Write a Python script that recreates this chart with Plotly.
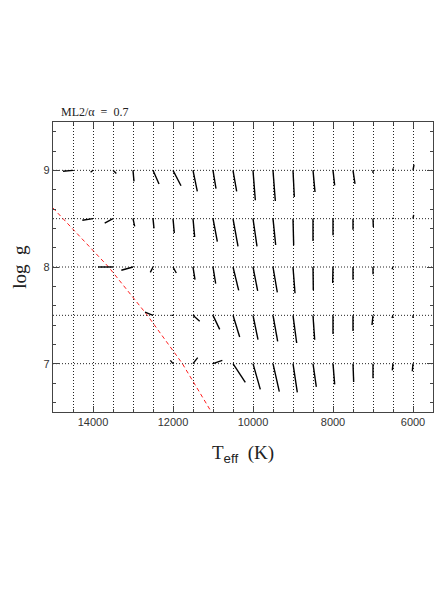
import plotly.graph_objects as go

# model grid: start points of the vectors are the grid nodes
teff_nodes = [14500, 14000, 13500, 13000, 12500, 12000, 11500, 11000, 10500,
              10000, 9500, 9000, 8500, 8000, 7500, 7000, 6500, 6000]
logg_rows = [9.0, 8.5, 8.0, 7.5, 7.0]

# end points of the vectors, one list per log g row (hottest node first)
end_teff_90 = [14750, 14060, 13417, 12975, 12350, 11800, 11392, 10925, 10408,
               9942, 9442, 8967, 8450, 7958, 7450, 7000, 6500, 5975]
end_logg_90 = [8.99, 8.98, 8.966, 8.886, 8.859, 8.841, 8.783, 8.81, 8.783,
               8.69, 8.683, 8.724, 8.776, 8.845, 8.859, 8.972, 9.02, 9.059]

end_teff_85 = [14267, 13708, 12958, 12475, 11967, 11458, 10892, 10375,
               9900, 9433, 8983, 8500, 8000, 7500, 6992, 6500, 5983]
end_logg_85 = [8.483, 8.455, 8.42, 8.4, 8.352, 8.31, 8.262, 8.214,
               8.214, 8.228, 8.224, 8.269, 8.328, 8.386, 8.414, 8.51, 8.538]

end_teff_80 = [13875, 13292, 12567, 11917, 11450, 10933, 10358,
               9883, 9392, 8950, 8492, 8008, 7500, 7000, 6525, 6000]
end_logg_80 = [8.0, 7.966, 7.945, 7.938, 7.869, 7.828, 7.759,
               7.752, 7.738, 7.728, 7.759, 7.834, 7.869, 7.924, 7.976, 8.01]

end_teff_75 = [12700, 12040, 11333, 10833, 10333, 9875, 9383, 8908, 8458,
               8000, 7500, 7025, 6525, 6000]
end_logg_75 = [7.534, 7.5, 7.438, 7.355, 7.276, 7.248, 7.231, 7.214, 7.248,
               7.307, 7.338, 7.4, 7.472, 7.472]

end_teff_70 = [12067, 11383, 10767, 10192, 9817, 9342, 8892, 8417, 7958,
               7483, 7000, 6517, 6017]
end_logg_70 = [7.034, 7.062, 7.034, 6.807, 6.734, 6.71, 6.703, 6.759, 6.786,
               6.81, 6.848, 6.931, 6.921]

# red dashed boundary
red_teff = [15000, 14750, 13610, 12640, 11765, 11040]
red_logg = [8.61, 8.5, 8.0, 7.5, 7.0, 6.5]

rows = [(9.0, end_teff_90, end_logg_90),
        (8.5, end_teff_85, end_logg_85),
        (8.0, end_teff_80, end_logg_80),
        (7.5, end_teff_75, end_logg_75),
        (7.0, end_teff_70, end_logg_70)]

seg_x, seg_y = [], []
for g, et, eg in rows:
    starts = teff_nodes[len(teff_nodes) - len(et):]
    for t0, t1, g1 in zip(starts, et, eg):
        seg_x += [t0, t1, None]
        seg_y += [g, g1, None]

fig = go.Figure()

# horizontal dotted grid at the model log g values
for g in logg_rows:
    fig.add_hline(y=g, line=dict(color='#222', width=1, dash='1px,2px'), layer='below')

fig.add_trace(go.Scatter(x=red_teff, y=red_logg, mode='lines',
                         line=dict(color='#ff2020', width=1, dash='4px,3px'),
                         hoverinfo='skip'))
fig.add_trace(go.Scatter(x=seg_x, y=seg_y, mode='lines',
                         line=dict(color='black', width=1.4),
                         hoverinfo='skip'))

axis_common = dict(showline=True, linecolor='#444', linewidth=1.2, mirror='allticks',
                   ticks='inside', tickcolor='#444', zeroline=False, tickformat='d',
                   tickfont=dict(family='Liberation Sans', size=11, color='#333'))

fig.update_xaxes(range=[15000, 5500], tick0=0, dtick=2000, ticklen=6,
                 showgrid=True, gridcolor='#222', griddash='1px,2px', gridwidth=1,
                 minor=dict(dtick=500, ticklen=3, ticks='inside', tickcolor='#444',
                            showgrid=True, gridcolor='#222', griddash='1px,2px'),
                 **axis_common)
fig.update_yaxes(range=[6.5, 9.5], tick0=0, dtick=1, ticklen=6, showgrid=False,
                 minor=dict(dtick=0.2, ticklen=3, ticks='inside', tickcolor='#444',
                            showgrid=False),
                 **axis_common)

fig.add_annotation(text='ML2/α  =  0.7', xref='paper', yref='paper', x=0.015, y=1.005,
                   xanchor='left', yanchor='bottom', showarrow=False,
                   font=dict(family='Liberation Serif', size=12, color='#222'))
fig.add_annotation(text='log  g', xref='paper', yref='paper', x=-0.09, y=0.5,
                   textangle=-90, xanchor='center', yanchor='middle', showarrow=False,
                   font=dict(family='Liberation Serif', size=19, color='#222'))
fig.add_annotation(text='T<sub><span style="font-family:Liberation Sans">eff</span></sub>  (K)',
                   xref='paper', yref='paper', x=0.5, y=-0.145,
                   xanchor='center', yanchor='middle', showarrow=False,
                   font=dict(family='Liberation Serif', size=19, color='#222'))

# page body adds an 8px offset, so margins are shifted to keep the plot box in place
fig.update_layout(width=443, height=590, showlegend=False,
                  margin=dict(l=45, r=18, t=114, b=186),
                  paper_bgcolor='white', plot_bgcolor='white')

fig.write_html("out.html")
